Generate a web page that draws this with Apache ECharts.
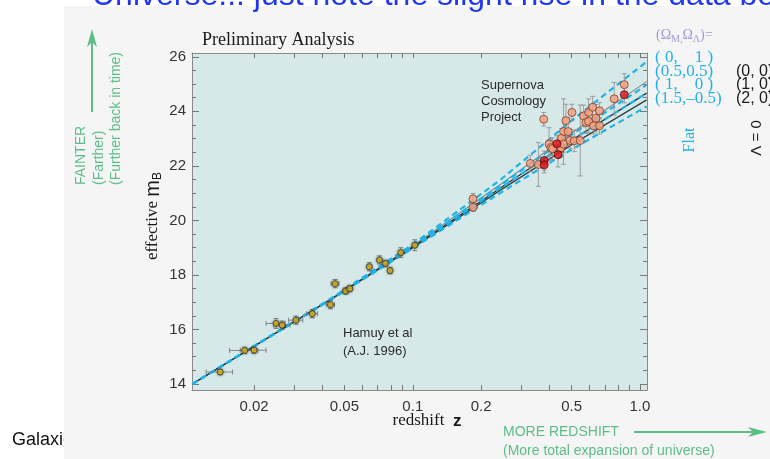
<!DOCTYPE html>
<html>
<head>
<meta charset="utf-8">
<script src="https://cdn.jsdelivr.net/npm/echarts@6/dist/echarts.min.js"></script>
<style>
  html, body { margin: 0; padding: 0; background: #fff; }
  #chart { width: 770px; height: 459px; }
</style>
</head>
<body>
<div id="chart"></div>
<script>
// Hubble diagram, Supernova Cosmology Project (preliminary)
const LOG = Math.log10;

// axis ticks
const xTickZ = [0.02, 0.03, 0.04, 0.05, 0.06, 0.07, 0.08, 0.09, 0.1, 0.2, 0.3, 0.4, 0.5, 0.6, 0.7, 0.8, 0.9, 1.0];
const xLabelZ = [0.02, 0.05, 0.1, 0.2, 0.5, 1.0];
const xLabelText = ['0.02', '0.05', '0.1', '0.2', '0.5', '1.0'];
const yMajor = [14, 16, 18, 20, 22, 24, 26];
const yMinor = [14.5, 15, 15.5, 16.5, 17, 17.5, 18.5, 19, 19.5, 20.5, 21, 21.5, 22.5, 23, 23.5, 24.5, 25, 25.5];

// model curves
const modelZ = [0.0107, 0.0435, 0.1, 0.244, 0.5, 1.07];
const flat01 = [14.0, 17.13, 19.12, 21.50, 23.66, 25.82];   // (0, 1)
const flat0505 = [14.0, 17.11, 19.06, 21.30, 23.14, 24.97]; // (0.5, 0.5)
const flat10 = [14.0, 17.10, 19.02, 21.20, 22.94, 24.67];   // (1, 0)
const flat15 = [14.0, 17.09, 18.98, 21.02, 22.60, 24.18];   // (1.5, -0.5)
const open00 = [14.0, 17.11, 19.07, 21.33, 23.21, 25.09];   // (0, 0)
const closed10 = [14.0, 17.10, 19.02, 21.20, 22.94, 24.67]; // (1, 0)
const closed20 = [14.0, 17.10, 19.00, 21.12, 22.77, 24.42]; // (2, 0)

// Hamuy et al (1996) low-z supernovae
const hamuyZ = [0.0142, 0.0182, 0.0200, 0.0250, 0.0266, 0.0306, 0.0361, 0.0434, 0.0455, 0.0506, 0.0528, 0.0644, 0.0713, 0.0758, 0.0794, 0.0885, 0.1020];
const hamuyM = [14.44, 15.23, 15.24, 16.22, 16.16, 16.34, 16.58, 16.91, 17.68, 17.41, 17.50, 18.30, 18.55, 18.42, 18.16, 18.82, 19.09];
const hamuyZerr = [0.0019, 0.0026, 0.0026, 0.0024, 0.0022, 0.0022, 0.0020, 0.0018, 0.0018, 0.0016, 0.0016, 0.0015, 0.0015, 0.0015, 0.0015, 0.0015, 0.0015];
const hamuyMerr = [0.10, 0.12, 0.12, 0.18, 0.15, 0.15, 0.15, 0.15, 0.15, 0.12, 0.12, 0.15, 0.15, 0.12, 0.12, 0.18, 0.20];

// SCP high-z supernovae
const scpZ = [0.184, 0.184, 0.329, 0.357, 0.377, 0.398, 0.405, 0.412, 0.446, 0.449, 0.452, 0.461, 0.461, 0.472, 0.483, 0.493, 0.502, 0.514, 0.546, 0.565, 0.578, 0.594, 0.594, 0.619, 0.625, 0.640, 0.664, 0.664, 0.770, 0.853];
const scpM = [20.79, 20.48, 22.09, 22.05, 23.71, 22.80, 22.67, 22.63, 22.62, 22.67, 23.02, 23.26, 22.80, 23.66, 23.26, 22.93, 23.96, 22.92, 22.93, 23.83, 23.59, 23.96, 23.63, 24.15, 23.47, 23.75, 24.02, 23.47, 24.46, 24.98];
const scpErr = [0.20, 0.15, 0.30, 0.80, 0.25, 0.60, 0.30, 0.40, 0.30, 0.35, 0.35, 1.20, 0.30, 0.60, 0.50, 0.30, 0.30, 0.40, 1.30, 0.40, 0.40, 0.50, 0.40, 0.40, 0.30, 0.50, 0.30, 0.30, 0.60, 0.40];
const scpRedZ = [0.379, 0.379, 0.431, 0.436, 0.853];
const scpRedM = [22.19, 22.04, 22.81, 22.41, 24.61];
const scpRedErr = [0.35, 0.30, 0.30, 0.45, 0.30];

const CYAN = '#22b2e6';
const GREEN = '#5dbd88';
const SANS = 'Liberation Sans, Arial, sans-serif';
const SERIF = 'Liberation Serif, Times New Roman, serif';

function curve(arr) { return modelZ.map((z, i) => [LOG(z), arr[i]]); }

function vBars(params, api) {
  const x = api.value(0), y = api.value(1), e = api.value(2);
  const a = api.coord([x, y + e]), b = api.coord([x, y - e]);
  const st = { stroke: '#8c8c8c', lineWidth: 0.8 };
  return { type: 'group', children: [
    { type: 'line', shape: { x1: a[0], y1: a[1], x2: b[0], y2: b[1] }, style: st },
    { type: 'line', shape: { x1: a[0] - 2.5, y1: a[1], x2: a[0] + 2.5, y2: a[1] }, style: st },
    { type: 'line', shape: { x1: b[0] - 2.5, y1: b[1], x2: b[0] + 2.5, y2: b[1] }, style: st }
  ] };
}

function hBars(params, api) {
  const x1 = api.value(0), x2 = api.value(1), y = api.value(2), e = api.value(3), xc = api.value(4);
  const a = api.coord([x1, y]), b = api.coord([x2, y]);
  const t = api.coord([xc, y + e]), d = api.coord([xc, y - e]);
  const st = { stroke: '#6f6f6f', lineWidth: 0.8 };
  return { type: 'group', children: [
    { type: 'line', shape: { x1: a[0], y1: a[1], x2: b[0], y2: b[1] }, style: st },
    { type: 'line', shape: { x1: a[0], y1: a[1] - 2.5, x2: a[0], y2: a[1] + 2.5 }, style: st },
    { type: 'line', shape: { x1: b[0], y1: b[1] - 2.5, x2: b[0], y2: b[1] + 2.5 }, style: st },
    { type: 'line', shape: { x1: t[0], y1: t[1], x2: d[0], y2: d[1] }, style: st },
    { type: 'line', shape: { x1: t[0] - 2.5, y1: t[1], x2: t[0] + 2.5, y2: t[1] }, style: st },
    { type: 'line', shape: { x1: d[0] - 2.5, y1: d[1], x2: d[0] + 2.5, y2: d[1] }, style: st }
  ] };
}

function xLabel(v) {
  const i = xLabelZ.findIndex(z => Math.abs(LOG(z) - v) < 1e-6);
  return i >= 0 ? xLabelText[i] : '';
}

const xMin = -1.972, xMax = 0.031, yMin = 13.78, yMax = 26.14;
const axisLine = { lineStyle: { color: '#8a8a8a', width: 1 } };

const chart = echarts.init(document.getElementById('chart'));

const lineBase = { type: 'line', showSymbol: false, silent: true, smooth: false };

chart.setOption({
  animation: false,
  grid: { left: 192, top: 53, width: 455, height: 337, show: true, backgroundColor: '#d6e9e8', borderWidth: 0 },
  xAxis: [
    {
      type: 'value', position: 'bottom', min: xMin, max: xMax,
      axisLine: { show: true, onZero: false, lineStyle: axisLine.lineStyle },
      axisTick: { show: true, inside: true, length: 5, customValues: xTickZ.map(LOG), lineStyle: { color: '#777' } },
      axisLabel: { show: true, customValues: xLabelZ.map(LOG), formatter: xLabel, margin: 9,
        color: '#333', fontFamily: SANS, fontSize: 15 },
      splitLine: { show: false }
    },
    {
      type: 'value', position: 'top', min: xMin, max: xMax,
      axisLine: { show: true, onZero: false, lineStyle: axisLine.lineStyle },
      axisTick: { show: true, inside: true, length: 5, customValues: xTickZ.map(LOG), lineStyle: { color: '#777' } },
      axisLabel: { show: false }, splitLine: { show: false }
    }
  ],
  yAxis: [
    {
      type: 'value', position: 'left', min: yMin, max: yMax,
      axisLine: { show: true, onZero: false, lineStyle: axisLine.lineStyle },
      axisTick: { show: true, inside: true, length: 7, customValues: yMajor, lineStyle: { color: '#777' } },
      axisLabel: { show: true, customValues: yMajor, margin: 6, color: '#333', fontFamily: SANS, fontSize: 15 },
      splitLine: { show: false }
    },
    {
      type: 'value', position: 'right', min: yMin, max: yMax,
      axisLine: { show: true, onZero: false, lineStyle: axisLine.lineStyle },
      axisTick: { show: true, inside: true, length: 7, customValues: yMajor, lineStyle: { color: '#777' } },
      axisLabel: { show: false }, splitLine: { show: false }
    },
    {
      type: 'value', position: 'left', min: yMin, max: yMax,
      axisLine: { show: false, onZero: false },
      axisTick: { show: true, inside: true, length: 4, customValues: yMinor, lineStyle: { color: '#777' } },
      axisLabel: { show: false }, splitLine: { show: false }
    },
    {
      type: 'value', position: 'right', min: yMin, max: yMax,
      axisLine: { show: false, onZero: false },
      axisTick: { show: true, inside: true, length: 4, customValues: yMinor, lineStyle: { color: '#777' } },
      axisLabel: { show: false }, splitLine: { show: false }
    }
  ],
  series: [
    // Lambda = 0 models (solid)
    Object.assign({}, lineBase, { name: '(0,0)', data: curve(open00), z: 2, lineStyle: { color: '#7d8c8c', width: 1.2 } }),
    Object.assign({}, lineBase, { name: '(1,0)', data: curve(closed10), z: 2, lineStyle: { color: '#1d3535', width: 1.3 } }),
    Object.assign({}, lineBase, { name: '(2,0)', data: curve(closed20), z: 2, lineStyle: { color: '#2c4242', width: 1.3 } }),
    // flat models (dashed)
    Object.assign({}, lineBase, { name: 'flat (0,1)', data: curve(flat01), z: 3, lineStyle: { color: CYAN, width: 2.2, type: [6, 4] } }),
    Object.assign({}, lineBase, { name: 'flat (0.5,0.5)', data: curve(flat0505), z: 3, lineStyle: { color: CYAN, width: 2.2, type: [6, 4] } }),
    Object.assign({}, lineBase, { name: 'flat (1,0)', data: curve(flat10), z: 3, lineStyle: { color: CYAN, width: 2.2, type: [6, 4] } }),
    Object.assign({}, lineBase, { name: 'flat (1.5,-0.5)', data: curve(flat15), z: 3, lineStyle: { color: CYAN, width: 2.2, type: [6, 4] } }),
    // error bars
    {
      type: 'custom', silent: true, z: 4, renderItem: hBars,
      data: hamuyZ.map((z, i) => [LOG(z - hamuyZerr[i]), LOG(z + hamuyZerr[i]), hamuyM[i], hamuyMerr[i], LOG(z)])
    },
    {
      type: 'custom', silent: true, z: 4, renderItem: vBars,
      data: scpZ.map((z, i) => [LOG(z), scpM[i], scpErr[i]]).concat(scpRedZ.map((z, i) => [LOG(z), scpRedM[i], scpRedErr[i]]))
    },
    // points
    {
      type: 'scatter', name: 'Hamuy', z: 5, symbolSize: 6,
      data: hamuyZ.map((z, i) => [LOG(z), hamuyM[i]]),
      itemStyle: { color: '#f2c418', borderColor: '#3a3a3a', borderWidth: 1, shadowBlur: 3, shadowColor: 'rgba(0,0,0,0.45)' }
    },
    {
      type: 'scatter', name: 'SCP', z: 5, symbolSize: 8,
      data: scpZ.map((z, i) => [LOG(z), scpM[i]]),
      itemStyle: { color: '#f3a07e', borderColor: '#8a3a22', borderWidth: 1 }
    },
    {
      type: 'scatter', name: 'SCP red', z: 6, symbolSize: 8,
      data: scpRedZ.map((z, i) => [LOG(z), scpRedM[i]]),
      itemStyle: { color: '#e3141c', borderColor: '#5a0a0a', borderWidth: 1 }
    }
  ],
  graphic: [
    { type: 'text', z: -101, x: 12, y: 440, style: { text: 'Galaxies', font: '18px ' + SANS, fill: '#111', textVerticalAlign: 'middle' } },
    { type: 'rect', z: -100, shape: { x: 64, y: 6, width: 706, height: 453 }, style: { fill: '#f5f5f5' } },
    { type: 'text', z: 100, x: 92, y: -4, style: { text: 'Universe... just note the slight rise in the data box', font: '32px ' + SANS, fill: '#2238ee', textVerticalAlign: 'middle' } },

    { type: 'text', x: 202, y: 40, style: { text: 'Preliminary Analysis', font: '18px ' + SERIF, fill: '#1a1a1a', textVerticalAlign: 'middle' } },
    { type: 'text', x: 153, y: 216, rotation: Math.PI / 2, style: {
      text: '{a|effective }{b|m}{c|B}', textAlign: 'center', textVerticalAlign: 'middle',
      rich: {
        a: { fontFamily: SERIF, fontSize: 17, fill: '#1a1a1a', lineHeight: 22, verticalAlign: 'middle' },
        b: { fontFamily: SANS, fontSize: 20, fill: '#1a1a1a', lineHeight: 22, verticalAlign: 'middle' },
        c: { fontFamily: SANS, fontSize: 12, fill: '#1a1a1a', lineHeight: 12, verticalAlign: 'bottom' }
      } } },
    { type: 'text', x: 427, y: 421, style: {
      text: '{a|redshift  }{b|z}', textAlign: 'center', textVerticalAlign: 'middle',
      rich: {
        a: { fontFamily: SERIF, fontSize: 17, fill: '#1a1a1a' },
        b: { fontFamily: SANS, fontSize: 17, fontWeight: 'bold', fill: '#1a1a1a' }
      } } },

    { type: 'text', x: 481, y: 85, style: { text: 'Supernova', font: '13px ' + SANS, fill: '#2a2a2a', textVerticalAlign: 'middle' } },
    { type: 'text', x: 481, y: 101, style: { text: 'Cosmology', font: '13px ' + SANS, fill: '#2a2a2a', textVerticalAlign: 'middle' } },
    { type: 'text', x: 481, y: 117, style: { text: 'Project', font: '13px ' + SANS, fill: '#2a2a2a', textVerticalAlign: 'middle' } },
    { type: 'text', x: 343, y: 333, style: { text: 'Hamuy et al', font: '13px ' + SANS, fill: '#2a2a2a', textVerticalAlign: 'middle' } },
    { type: 'text', x: 343, y: 351, style: { text: '(A.J. 1996)', font: '13px ' + SANS, fill: '#2a2a2a', textVerticalAlign: 'middle' } },

    // model legend
    { type: 'text', x: 656, y: 35, style: {
      text: '{a|(Ω}{s|M,}{a|Ω}{s|Λ}{a|)=}', textVerticalAlign: 'middle',
      rich: {
        a: { fontFamily: SERIF, fontSize: 14, fill: '#a397d6', lineHeight: 18, verticalAlign: 'middle' },
        s: { fontFamily: SERIF, fontSize: 10, fill: '#a397d6', lineHeight: 10, verticalAlign: 'bottom' }
      } } },
    { type: 'text', x: 655, y: 58, style: { text: '( 0,    1 )', font: '17px ' + SERIF, fill: CYAN, textVerticalAlign: 'middle' } },
    { type: 'text', x: 655, y: 71.5, style: { text: '(0.5,0.5)', font: '17px ' + SERIF, fill: CYAN, textVerticalAlign: 'middle' } },
    { type: 'text', x: 655, y: 85, style: { text: '( 1,    0 )', font: '17px ' + SERIF, fill: CYAN, textVerticalAlign: 'middle' } },
    { type: 'text', x: 655, y: 98.5, style: { text: '(1.5,–0.5)', font: '17px ' + SERIF, fill: CYAN, textVerticalAlign: 'middle' } },
    { type: 'text', x: 736, y: 71.5, style: { text: '(0, 0)', font: '16px ' + SANS, fill: '#1a1a1a', textVerticalAlign: 'middle' } },
    { type: 'text', x: 736, y: 85, style: { text: '(1, 0)', font: '16px ' + SANS, fill: '#1a1a1a', textVerticalAlign: 'middle' } },
    { type: 'text', x: 736, y: 98.5, style: { text: '(2, 0)', font: '16px ' + SANS, fill: '#1a1a1a', textVerticalAlign: 'middle' } },
    { type: 'text', x: 690, y: 140, rotation: Math.PI / 2, style: { text: 'Flat', font: '16px ' + SERIF, fill: CYAN, textAlign: 'center', textVerticalAlign: 'middle' } },
    { type: 'text', x: 757, y: 138, rotation: Math.PI / 2, style: { text: 'Λ = 0', font: '15px ' + SANS, fill: '#1a1a1a', textAlign: 'center', textVerticalAlign: 'middle' } },

    // green annotations
    { type: 'line', shape: { x1: 92, y1: 112, x2: 92, y2: 34 }, style: { stroke: GREEN, lineWidth: 2 } },
    { type: 'polygon', shape: { points: [[87, 47], [92, 29], [97, 47], [92, 42]] }, style: { fill: GREEN } },
    { type: 'text', x: 81, y: 185, rotation: Math.PI / 2, style: { text: 'FAINTER', font: '14px ' + SANS, fill: GREEN, textAlign: 'left', textVerticalAlign: 'middle' } },
    { type: 'text', x: 99, y: 185, rotation: Math.PI / 2, style: { text: '(Farther)', font: '14px ' + SANS, fill: GREEN, textAlign: 'left', textVerticalAlign: 'middle' } },
    { type: 'text', x: 116, y: 185, rotation: Math.PI / 2, style: { text: '(Further back in time)', font: '14px ' + SANS, fill: GREEN, textAlign: 'left', textVerticalAlign: 'middle' } },
    { type: 'text', x: 503, y: 432, style: { text: 'MORE REDSHIFT', font: '14px ' + SANS, fill: GREEN, textVerticalAlign: 'middle' } },
    { type: 'text', x: 503, y: 451, style: { text: '(More total expansion of universe)', font: '14px ' + SANS, fill: GREEN, textVerticalAlign: 'middle' } },
    { type: 'line', shape: { x1: 634, y1: 432, x2: 760, y2: 432 }, style: { stroke: GREEN, lineWidth: 2 } },
    { type: 'polygon', shape: { points: [[748, 427], [767, 432], [748, 437], [753, 432]] }, style: { fill: GREEN } }
  ]
});
</script>
</body>
</html>
